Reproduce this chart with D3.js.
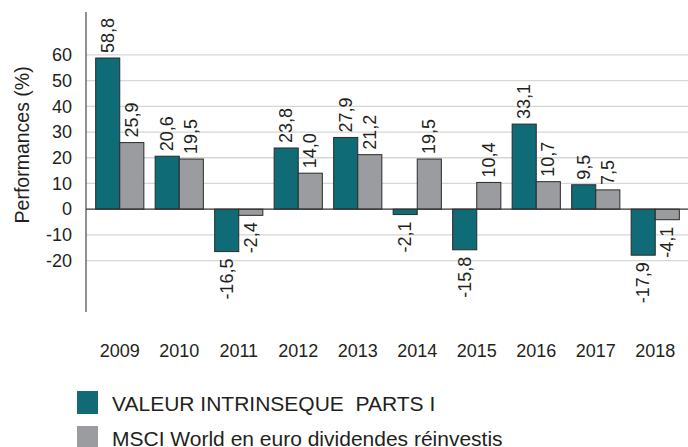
<!DOCTYPE html>
<html lang="fr">
<head>
<meta charset="UTF-8">
<script src="https://d3js.org/d3.v7.min.js"></script>
<style>
  body { margin: 0; background: #fff; }
  text { font-family: "Liberation Sans", Arial, sans-serif; fill: #231f20; }
</style>
<title>Performances</title>
</head>
<body>
<div id="chart"></div>
<script>
    const width = 688;
    const height = 447;

    // data
    const years = ["2009", "2010", "2011", "2012", "2013", "2014", "2015", "2016", "2017", "2018"];
    const fundValues = [58.8, 20.6, -16.5, 23.8, 27.9, -2.1, -15.8, 33.1, 9.5, -17.9];
    const indexValues = [25.9, 19.5, -2.4, 14.0, 21.2, 19.5, 10.4, 10.7, 7.5, -4.1];
    const seriesNames = ["VALEUR INTRINSEQUE  PARTS I", "MSCI World en euro dividendes réinvestis"];
    const yTicks = [-20, -10, 0, 10, 20, 30, 40, 50, 60];

    const colors = ["#0f6b75", "#9b9c9f"];
    const fmt = v => d3.format(".1f")(v).replace(".", ",").replace("\u2212", "-");

    const svg = d3.select("#chart").append("svg")
        .attr("width", width)
        .attr("height", height);

    const y = d3.scaleLinear()
        .domain([-40, 76.7])
        .range([312, 12]);

    const x = d3.scaleBand()
        .domain(years)
        .range([90, 685])
        .paddingInner(0.19)
        .paddingOuter(0.095);

    const xSub = d3.scaleBand()
        .domain([0, 1])
        .range([0, x.bandwidth()]);

    // gridlines
    svg.selectAll(".grid")
        .data(yTicks.filter(d => d !== 0))
        .enter().append("line")
        .attr("x1", 86).attr("x2", width)
        .attr("y1", d => y(d)).attr("y2", d => y(d))
        .attr("stroke", "#d6d6d6")
        .attr("stroke-width", 1.3);

    // y axis
    const yAxis = svg.append("g")
        .attr("transform", "translate(86,0)")
        .call(d3.axisLeft(y).tickValues(yTicks).tickSize(0).tickPadding(14)
            .tickFormat(d => String(d)));
    yAxis.select(".domain").remove();
    yAxis.selectAll("text")
        .style("font-size", "18px")
        .style("font-family", "'Liberation Sans', Arial, sans-serif")
        .attr("fill", "#231f20");

    svg.append("line")
        .attr("x1", 86).attr("x2", 86)
        .attr("y1", y.range()[1]).attr("y2", y.range()[0])
        .attr("stroke", "#555")
        .attr("stroke-width", 1.3);

    svg.append("text")
        .attr("transform", `translate(29,${y(25)}) rotate(-90)`)
        .attr("text-anchor", "middle")
        .style("font-size", "19.5px")
        .text("Performances (%)");

    // bars
    const groups = svg.selectAll(".year")
        .data(years.map((yr, i) => ({ yr, vals: [fundValues[i], indexValues[i]] })))
        .enter().append("g")
        .attr("transform", d => `translate(${x(d.yr)},0)`);

    groups.selectAll("rect")
        .data(d => d.vals.map((v, s) => ({ v, s })))
        .enter().append("rect")
        .attr("x", d => xSub(d.s))
        .attr("width", xSub.bandwidth())
        .attr("y", d => y(Math.max(0, d.v)))
        .attr("height", d => Math.abs(y(d.v) - y(0)))
        .attr("fill", d => colors[d.s])
        .attr("stroke", "#2a2a2a")
        .attr("stroke-width", 1);

    groups.selectAll(".val")
        .data(d => d.vals.map((v, s) => ({ v, s })))
        .enter().append("text")
        .attr("class", "val")
        .attr("transform", d => {
            const cx = xSub(d.s) + xSub.bandwidth() / 2 + 6;
            const cy = d.v >= 0 ? y(d.v) - 5 : y(d.v) + 7;
            return `translate(${cx},${cy}) rotate(-90)`;
        })
        .attr("text-anchor", d => d.v >= 0 ? "start" : "end")
        .style("font-size", "18px")
        .text(d => fmt(d.v));

    // zero line
    svg.append("line")
        .attr("x1", 86).attr("x2", width)
        .attr("y1", y(0)).attr("y2", y(0))
        .attr("stroke", "#333")
        .attr("stroke-width", 1.3);

    // x labels
    svg.selectAll(".xl")
        .data(years)
        .enter().append("text")
        .attr("x", d => x(d) + x.bandwidth() / 2)
        .attr("y", 357)
        .attr("text-anchor", "middle")
        .style("font-size", "18px")
        .text(d => d);

    // legend
    const legend = svg.selectAll(".leg")
        .data(seriesNames)
        .enter().append("g")
        .attr("transform", (d, i) => `translate(77,${391 + i * 35})`);
    legend.append("rect")
        .attr("width", 21).attr("height", 23)
        .attr("fill", (d, i) => colors[i]);
    legend.append("text")
        .attr("x", 35).attr("y", 20)
        .style("font-size", "21px")
        .style("white-space", "pre")
        .text(d => d);
</script>
</body>
</html>
